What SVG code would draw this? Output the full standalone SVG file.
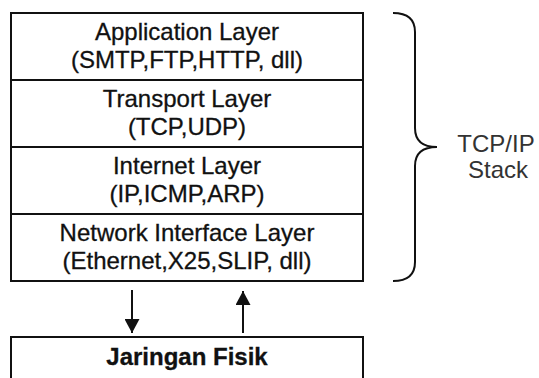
<svg xmlns="http://www.w3.org/2000/svg" width="539" height="378" viewBox="0 0 539 378">
<style>
.box{fill:#fff;stroke:#111;stroke-width:2}
.t{font-family:"Liberation Sans",Arial,sans-serif;font-size:24px;fill:#111;text-anchor:middle;stroke:#111;stroke-width:0.3}
.b{font-weight:bold}
.lt{fill:#333;stroke:none;font-size:24px}
.c{stroke:#111;stroke-width:2;fill:none}
</style>
<defs>
<marker id="ah" viewBox="0 0 14 15" refX="14" refY="7.5" markerWidth="14" markerHeight="15" markerUnits="userSpaceOnUse" orient="auto">
<path d="M0,0 L14,7.5 L0,15 Z" fill="#111"/>
</marker>
</defs>
<rect width="539" height="378" fill="#fff"/>
<g id="application">
<rect class="box" x="11" y="13" width="352" height="67"/>
<text class="t" x="187" y="40">Application Layer</text>
<text class="t" x="187" y="68">(SMTP,FTP,HTTP, dll)</text>
</g>
<g id="transport">
<rect class="box" x="11" y="80" width="352" height="67"/>
<text class="t" x="187" y="107">Transport Layer</text>
<text class="t" x="187" y="135">(TCP,UDP)</text>
</g>
<g id="internet">
<rect class="box" x="11" y="147" width="352" height="67"/>
<text class="t" x="187" y="174">Internet Layer</text>
<text class="t" x="187" y="202">(IP,ICMP,ARP)</text>
</g>
<g id="network">
<rect class="box" x="11" y="214" width="352" height="67"/>
<text class="t" x="187" y="241">Network Interface Layer</text>
<text class="t" x="187" y="269">(Ethernet,X25,SLIP, dll)</text>
</g>
<g id="fisik">
<rect class="box" x="11" y="337" width="352" height="60"/>
<text class="t b" x="187" y="365">Jaringan Fisik</text>
</g>
<g id="stack">
<path class="c" d="M393,13 C408,13 415,20 415,32 L415,128 C415,140 422,147 437,147 C422,147 415,154 415,166 L415,262 C415,274 408,281 393,281"/>
<text class="t lt" x="496" y="152">TCP/IP</text>
<text class="t lt" x="498" y="178">Stack</text>
</g>
<g id="connectors">
<line class="c" x1="132" y1="290" x2="132" y2="333" marker-end="url(#ah)"/>
<line class="c" x1="243" y1="333" x2="243" y2="291" marker-end="url(#ah)"/>
</g>
</svg>
